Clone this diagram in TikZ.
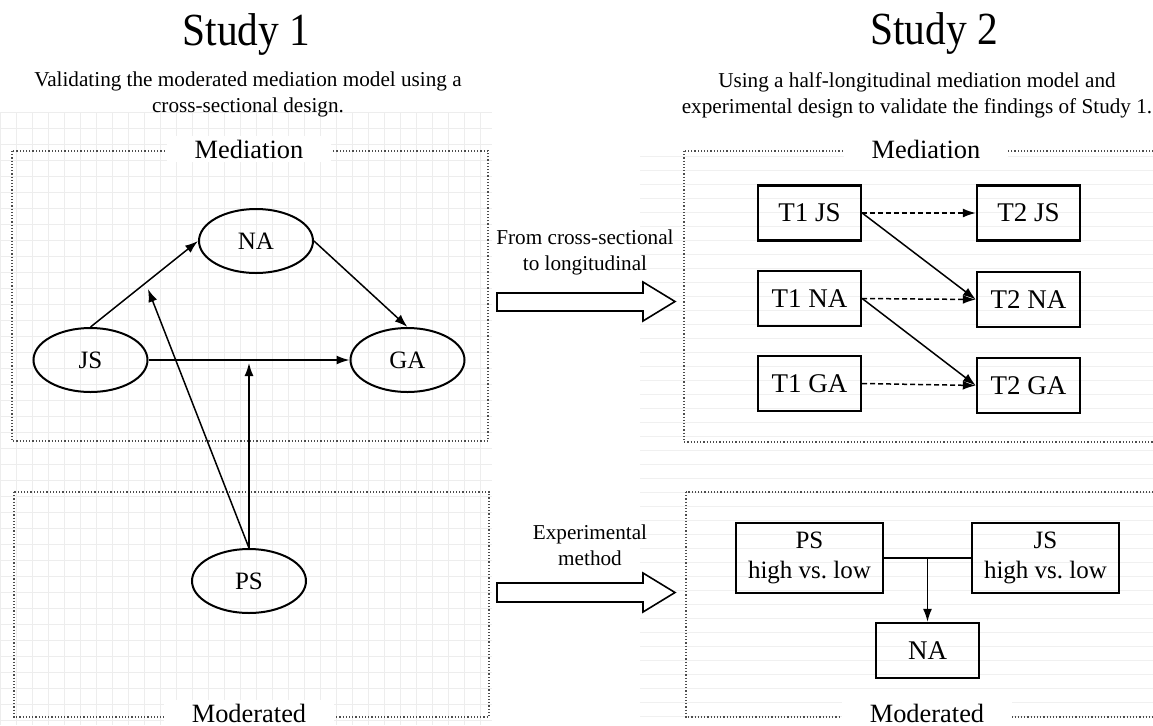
\documentclass[tikz,border=0pt]{standalone}
\usepackage{fontspec}
\setmainfont{Liberation Serif}
\newfontfamily\headfont{Liberation Serif}[FakeStretch=0.9]
\usepackage{tikz}
\usetikzlibrary{
    arrows.meta,
    shapes,
    calc,
    positioning
}
\frenchspacing

\begin{document}
\begin{tikzpicture}[x=0.5pt, y=-0.5pt,
    >={Latex[length=6.5pt, width=4.5pt]},
    oval/.style={draw, ellipse, line width=1pt, minimum width=57pt, minimum height=32pt, inner sep=0pt, font=\fontsize{12.5}{14}\selectfont},
    tbox/.style={draw, rectangle, line width=1.2pt, minimum width=51.5pt, minimum height=27.5pt, inner sep=0pt, font=\fontsize{13.5}{15}\selectfont},
    hbox/.style={tbox, minimum width=73.5pt, minimum height=35pt, align=center, font=\fontsize{12.5}{15}\selectfont},
    panel/.style={densely dotted, line width=0.6pt, black!70},
    paneltitle/.style={fill=white, anchor=base, inner xsep=14pt, inner ysep=2pt, font=\fontsize{13.2}{15}\selectfont},
    conn/.style={line width=0.75pt},
    hollow/.style={line width=0.8pt, fill=white},
    note/.style={align=center, font=\fontsize{10.6}{13}\selectfont},
    heading/.style={anchor=base, font=\headfont\fontsize{23}{26}\selectfont}
]
                        \useasboundingbox (0,0) rectangle (1153,725);
                        \fill[white] (0,0) rectangle (1153,725);
                        \draw[black!7, line width=0.3pt, step=8pt] (0,112) grid (492,725);
                        \foreach \y in {156,170,...,716}
                            \draw[black!6, line width=0.3pt] (640,\y) -- (1153,\y);

                        \node[heading] (title1) at (246.5,45) {Study 1};
                        \node[heading] (title2) at (934,44) {Study 2};
                        \node[note] (sub1) at (248,94) {Validating the moderated mediation model using a\\cross-sectional design.};
                        \node[note] (sub2) at (917,95) {Using a half-longitudinal mediation model and\\experimental design to validate the findings of Study 1.};

                        \draw[panel] (12,151) rectangle (488,441);
                        \draw[panel] (14,492) rectangle (489,717);
                        \draw[panel] (684,151) rectangle (1170,442);
                        \draw[panel] (686,492) rectangle (1170,717);
                        \node[paneltitle] (med1) at (249,158) {Mediation};
                        \node[paneltitle] (mod1) at (249,722) {Moderated};
                        \node[paneltitle] (med2) at (926,158) {Mediation};
                        \node[paneltitle] (mod2) at (927,722) {Moderated};

                        \node[oval] (na) at (256,241) {NA};
                        \node[oval] (js) at (90.5,360) {JS};
                        \node[oval] (ga) at (407.5,360) {GA};
                        \node[oval] (ps) at (249,581) {PS};
                        \coordinate (m1) at (148,289);
                        \coordinate (m2) at (249,363);

                        \draw[conn]
                        (js.north) edge[->] (na.west)
                        (na.east) edge[->] (ga.north)
                        (js.east) edge[->] (ga.west)
                        (ps.north) edge[->] (m1)
                        (ps.north) edge[->] (m2);

                        \draw[hollow] (497,293) -- (643,293) -- (643,282) -- (675,301.5) -- (643,321) -- (643,311) -- (497,311) -- cycle;
                        \draw[hollow] (497,583) -- (643,583) -- (643,573) -- (675,592.5) -- (643,612) -- (643,602) -- (497,602) -- cycle;
                        \node[note] (lbl1) at (585,252) {From cross-sectional\\to longitudinal};
                        \node[note] (lbl2) at (590,545) {Experimental\\method};

                        \node[tbox] (t1js) at (809.5,213) {T1 JS};
                        \node[tbox] (t2js) at (1028.5,213) {T2 JS};
                        \node[tbox] (t1na) at (809.5,298.5) {T1 NA};
                        \node[tbox] (t2na) at (1028.5,299.5) {T2 NA};
                        \node[tbox] (t1ga) at (809.5,383.5) {T1 GA};
                        \node[tbox] (t2ga) at (1028.5,385.5) {T2 GA};

                        \draw[conn]
                        (t1js.east) edge[->, dash pattern=on 2.5pt off 1.5pt] (t2js.west)
                        (t1na.east) edge[->, dash pattern=on 2.5pt off 1.5pt] (t2na.west)
                        (t1ga.east) edge[->, dash pattern=on 2.5pt off 1.5pt] (t2ga.west)
                        (t1js.east) edge[->] (t2na.west)
                        (t1na.east) edge[->] (t2ga.west);

                        \node[hbox] (psb) at (809.5,558) {PS\\high vs. low};
                        \node[hbox] (jsb) at (1045.5,558) {JS\\high vs. low};
                        \coordinate (mid) at ($(psb.east)!0.5!(jsb.west)$);
                        \node[tbox] (nab) at (mid |- 0,650.5) {NA};

                        \draw[conn]
                        (psb.east) edge (jsb.west)
                        (mid) edge[->] (nab.north);
                    \end{tikzpicture}
\end{document}
